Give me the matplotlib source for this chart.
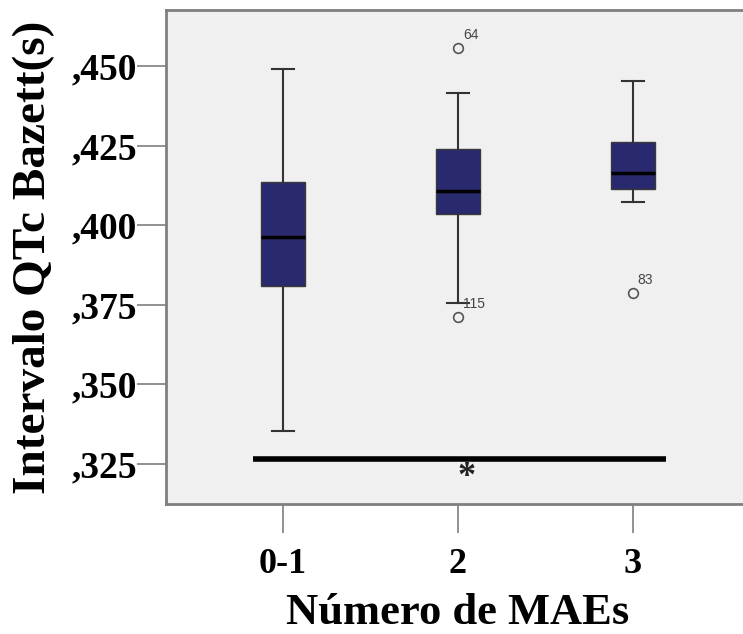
# Boxplot of QTc Bazett interval by number of MAEs
import matplotlib
matplotlib.use('Agg')
import matplotlib.pyplot as plt

# Data
groups = ['0-1', '2', '3']
whisker_low = [0.3354, 0.3757, 0.4073]
q1 = [0.3810, 0.4035, 0.4114]
median = [0.3964, 0.4108, 0.4165]
q3 = [0.4137, 0.4239, 0.4262]
whisker_high = [0.4490, 0.4416, 0.4454]
outliers = [[], [0.4558, 0.3712], [0.3787]]
outlier_ids = [[], ['64', '115'], ['83']]
sig_span = [0.826, 3.19]
sig_y = 0.3264

box_color = '#29296f'
frame_color = '#7f7f7f'
serif = ['Liberation Serif', 'DejaVu Serif']

fig = plt.figure(figsize=(7.43, 6.34), dpi=100)
ax = fig.add_axes([0.2234, 0.205, 0.786, 0.779])
ax.set_facecolor('#f0f0f0')

stats = []
for i, g in enumerate(groups):
    stats.append({'label': g, 'whislo': whisker_low[i], 'q1': q1[i], 'med': median[i],
                  'q3': q3[i], 'whishi': whisker_high[i], 'fliers': outliers[i]})

ax.bxp(stats, positions=[1, 2, 3], widths=0.255, capwidths=0.123, patch_artist=True,
       boxprops=dict(facecolor=box_color, edgecolor='#3a3a3a', linewidth=1),
       medianprops=dict(color='black', linewidth=2.5),
       whiskerprops=dict(color='#333333', linewidth=1.5),
       capprops=dict(color='#333333', linewidth=1.5),
       flierprops=dict(marker='o', markersize=7, markerfacecolor='none',
                       markeredgecolor='#555555', markeredgewidth=1.2))

# outlier case numbers
for i, ids in enumerate(outlier_ids):
    for val, lab in zip(outliers[i], ids):
        ax.annotate(lab, (i + 1, val), xytext=(3.5, 6.5), textcoords='offset points',
                    fontsize=10, color='#444444', family='Liberation Sans')

# significance bar
ax.plot(sig_span, [sig_y, sig_y], color='black', linewidth=4, solid_capstyle='butt')
ax.text(2.05, sig_y - 0.0006, '*', ha='center', va='top', fontsize=26,
        family=serif, fontweight='bold', color='#222222')

ax.set_xlim(0.331, 3.669)
ax.set_ylim(0.3124, 0.4676)
ax.set_yticks([0.325, 0.350, 0.375, 0.400, 0.425, 0.450])
ax.set_yticklabels([',325', ',350', ',375', ',400', ',425', ',450'])
ax.set_xticks([1, 2, 3])
ax.set_xticklabels(groups)

for lab in ax.get_yticklabels():
    lab.set_family(serif)
    lab.set_fontweight('bold')
    lab.set_fontsize(27)
for lab in ax.get_xticklabels():
    lab.set_family(serif)
    lab.set_fontweight('bold')
    lab.set_fontsize(26)

ax.tick_params(axis='both', direction='out', length=21, width=1.2, color=frame_color, pad=0)
ax.tick_params(axis='x', pad=11)
for sp in ax.spines.values():
    sp.set_color(frame_color)
    sp.set_linewidth(2)

ax.set_xlabel('Número de MAEs', family=serif, fontweight='bold', fontsize=32, labelpad=8)
ax.set_ylabel('Intervalo QTc Bazett(s)', family=serif, fontweight='bold', fontsize=34)
ax.yaxis.set_label_coords(-0.19, 0.5)

fig.savefig('out.png', dpi=100)
